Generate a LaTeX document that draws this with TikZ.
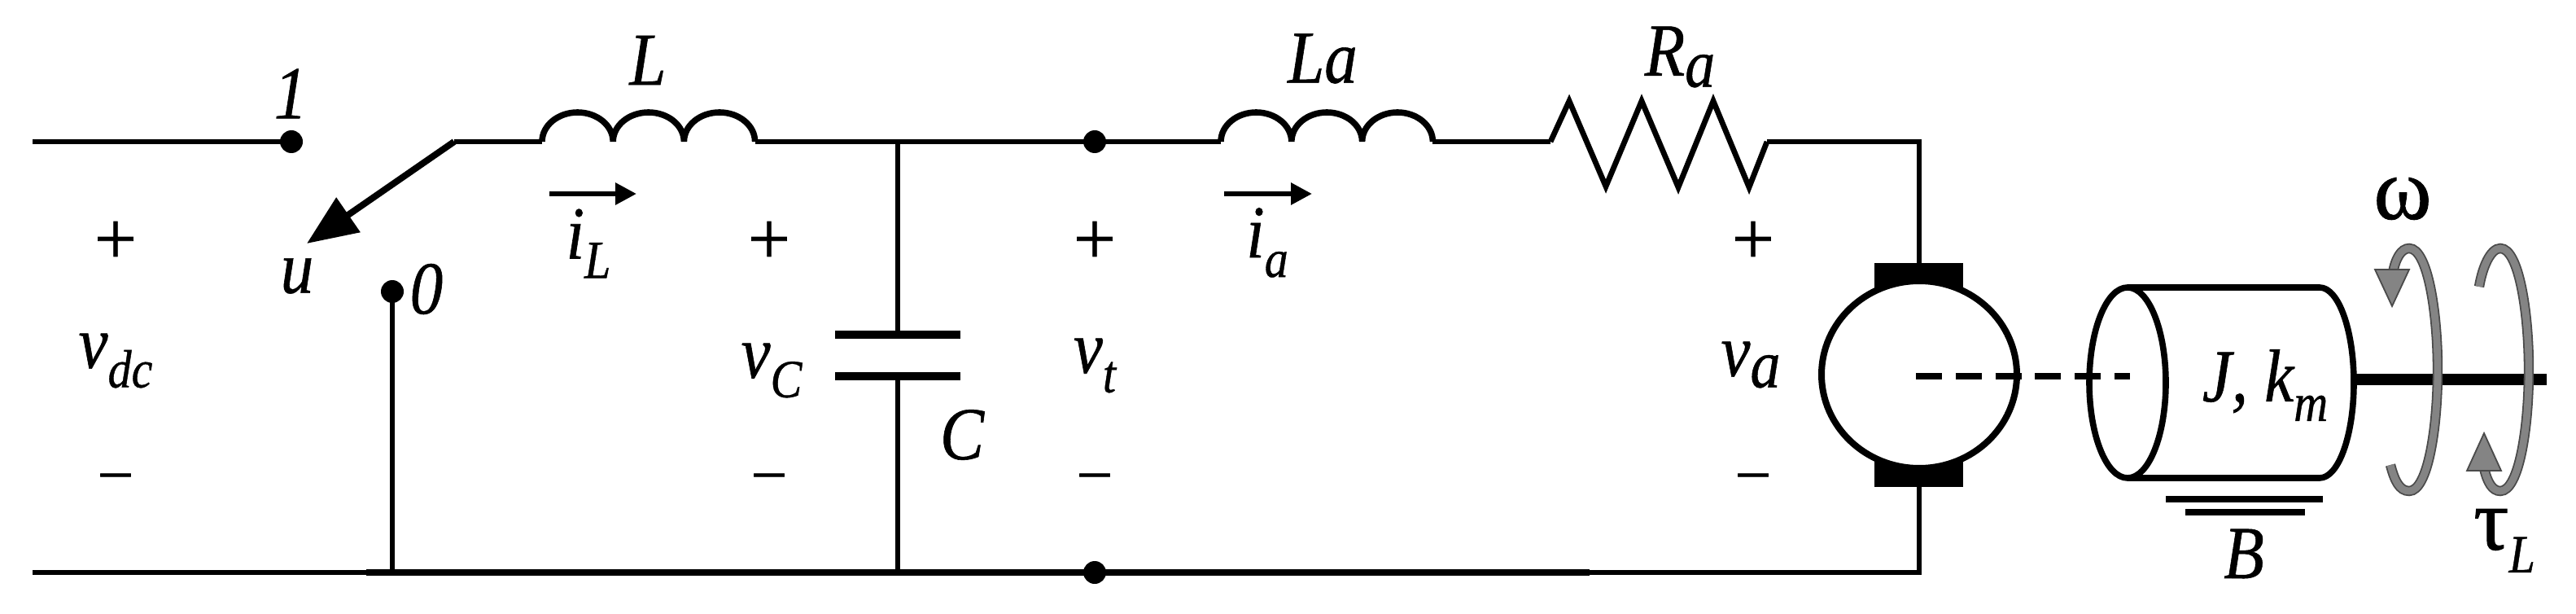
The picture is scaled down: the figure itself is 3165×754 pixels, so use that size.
\documentclass[tikz,border=0pt]{standalone}
\usepackage{fontspec}
\setmainfont{Liberation Serif}
\newfontfamily\labf[FakeStretch=0.88,FakeBold=0.6]{Liberation Serif}
\newfontfamily\symf[FakeBold=0.9]{Liberation Serif}
\usetikzlibrary{arrows.meta}
\definecolor{rotfill}{HTML}{848484}
\definecolor{rotedge}{HTML}{4A4A4A}
\newcommand{\lsub}[1]{\raisebox{-0.26em}{\fontsize{33}{36}\selectfont #1}}
\newcommand{\lsubb}[1]{\raisebox{-0.15em}{\fontsize{42}{46}\selectfont #1}}
\tikzset{
  x=0.5pt,y=-0.5pt,
  wire/.style={line width=3.4pt,black,line join=miter},
  thinwire/.style={line width=2.9pt,black},
  busbar/.style={line width=3.6pt,black},
  coil/.style={line width=3.8pt,black},
  plate/.style={line width=4.6pt,black},
  dotnode/.style={circle,fill=black,inner sep=0pt,minimum size=14pt},
  lab/.style={inner sep=0pt,font=\labf\fontsize{46}{50}\selectfont\itshape},
  sgn/.style={inner sep=0pt,font=\symf\fontsize{46}{50}\selectfont},
  mns/.style={inner sep=0pt,font=\symf\fontsize{36}{40}\selectfont},
  greek/.style={inner sep=0pt,font=\symf\fontsize{54}{58}\selectfont},
  curarrow/.style={line width=3pt,-{Triangle[length=13pt,width=13pt]}},
  swarrow/.style={line width=4pt,-{Triangle[length=31pt,width=25pt]}},
  rotpath/.style={line width=0.9pt,draw=rotedge,double=rotfill,double distance=4.4pt,line cap=butt},
  rothead/.style={fill=rotfill,draw=rotedge,line width=0.9pt,line join=miter},
  cyl/.style={line width=3.8pt,black},
}
\begin{document}
\begin{tikzpicture}
\useasboundingbox (0,0) rectangle (3165,754);
\fill[white] (0,0) rectangle (3165,754);
% junctions
\coordinate (inT) at (40,174);
\coordinate (inB) at (40,703);
\coordinate (busA) at (450,703);
\coordinate (gnd0) at (482,703);
\coordinate (piv) at (558,174);
\coordinate (swtip) at (377,299);
\coordinate (Ls) at (666,174);
\coordinate (Le) at (928,174);
\coordinate (capT) at (1103,174);
\coordinate (capB) at (1103,703);
\coordinate (capU) at (1103,411);
\coordinate (capL) at (1103,462);
\coordinate (Las) at (1500,174);
\coordinate (Lae) at (1760,174);
\coordinate (Rs) at (1905,174);
\coordinate (Re) at (2171,174);
\coordinate (corner) at (2358,174);
\coordinate (mT) at (2358,323);
\coordinate (mB) at (2358,598);
\coordinate (cornerB) at (2358,703);
\coordinate (busB) at (1953,703);
\coordinate (mC) at (2358,460);
% dots
\node[dotnode] (d1) at (358,174) {};
\node[dotnode] (d0) at (482,358) {};
\node[dotnode] (dT) at (1345,174) {};
\node[dotnode] (dB) at (1345,703) {};
% wires
\draw[wire] (inT) -- (d1.center);
\draw[thinwire] (inB) -- (busA);
\draw[busbar] (busA) -- (dB.center) -- (busB);
\draw[thinwire] (busB) -- (cornerB) -- (mB);
\draw[wire] (d0.center) -- (gnd0);
\draw[wire] (piv) -- (Ls);
\draw[wire] (Le) -- (dT.center) -- (Las);
\draw[wire] (Lae) -- (Rs);
\draw[wire] (capT) -- (capU);
\draw[wire] (capL) -- (capB);
\draw[swarrow] (piv) -- (swtip);
\draw[wire] (Re) -- (corner) -- (mT);
% inductors
\draw[coil] (Ls) arc[start angle=180,end angle=0,x radius=21.8pt,y radius=18pt]
  arc[start angle=180,end angle=0,x radius=21.8pt,y radius=18pt]
  arc[start angle=180,end angle=0,x radius=21.8pt,y radius=18pt];
\draw[coil] (Las) arc[start angle=180,end angle=0,x radius=21.7pt,y radius=18pt]
  arc[start angle=180,end angle=0,x radius=21.7pt,y radius=18pt]
  arc[start angle=180,end angle=0,x radius=21.7pt,y radius=18pt];
% resistor
\draw[wire] (Rs) -- (1928,124) -- (1973,229) -- (2017,124) -- (2062,230) -- (2105,124) -- (2149,230) -- (Re);
% capacitor
\draw[plate] (1026,411) -- (1180,411);
\draw[plate] (1026,462) -- (1180,462);
% current arrows
\coordinate (iLa) at (675,238); \coordinate (iLb) at (782,238);
\coordinate (iaa) at (1504,238); \coordinate (iab) at (1612,238);
\draw[curarrow] (iLa) -- (iLb);
\draw[curarrow] (iaa) -- (iab);
% motor
\fill[black] (2303,323) rectangle (2412,360);
\fill[black] (2303,563) rectangle (2412,598);
\draw[line width=4pt,fill=white] (mC) circle[x radius=60pt,y radius=57.5pt];
\coordinate (dashS) at (2354,462); \coordinate (dashE) at (2617,462);
% cylinder
\draw[cyl] (2614,353) -- (2850,353) arc[start angle=90,end angle=-90,x radius=21pt,y radius=58.5pt] -- (2614,587);
\draw[cyl] (2614,470) circle[x radius=23.5pt,y radius=58.5pt];
\draw[line width=4pt,dash pattern=on 16pt off 8.4pt] (dashS) -- (dashE);
% shaft
\coordinate (shA) at (2892,466); \coordinate (shB) at (3129,466);
\draw[line width=7pt] (shA) -- (shB);
% damper
\draw[plate,line width=4pt] (2661,613) -- (2854,613);
\draw[plate,line width=4pt] (2685,629) -- (2832,629);
% rotation arrows
\draw[rotpath] (2940,335) .. controls (2943,318) and (2950,305) .. (2960,305)
  .. controls (2983,305) and (2995,385) .. (2995,454)
  .. controls (2995,525) and (2983,603) .. (2960,603)
  .. controls (2948,603) and (2942,590) .. (2937,571);
\filldraw[rothead] (2918,331) -- (2960,331) -- (2939,376) -- cycle;
\draw[rotpath] (3046,352) .. controls (3050,328) and (3060,305) .. (3072,305)
  .. controls (3095,305) and (3107,385) .. (3107,454)
  .. controls (3107,525) and (3095,603) .. (3072,603)
  .. controls (3062,603) and (3056,592) .. (3052,575);
\filldraw[rothead] (3031,578) -- (3073,578) -- (3052,532) -- cycle;
% signs
\foreach \px/\nm in {142/a,945/b,1345/c,2154/d}{
  \node[sgn] (plus\nm) at (\px,298) {+};
  \node[mns] (minus\nm) at (\px,591) {–};
}
% labels
\node[lab] (t1) at (357,115) {1};
\node[lab] (tL) at (796,74) {L};
\node[lab] (tu) at (365,339) {u};
\node[lab] (t0) at (524,355) {0};
\node[lab] (tiL) at (723,299) {i\lsub{L}};
\node[lab] (tvdc) at (142,443) {v\lsub{dc}};
\node[lab] (tvC) at (948,455) {v\lsub{C}};
\node[lab] (tC) at (1182,534) {C};
\node[lab] (tvt) at (1345,449) {v\lsub{t}};
\node[lab] (tLa) at (1625,72) {La};
\node[lab] (tia) at (1557,298) {i\lsub{a}};
\node[lab] (tRa) at (2064,70) {R\lsubb{a}};
\node[lab] (tva) at (2151,448) {v\lsubb{a}};
\node[lab] (tJ) at (2783,473) {J, k\lsub{m}};
\node[lab] (tB) at (2757,680) {B};
\node[greek] (tw) at (2952,244) {ω};
\node[greek] (ttau) at (3077,664) {τ\lsub{\labf\itshape L}};
\end{tikzpicture}
\end{document}
